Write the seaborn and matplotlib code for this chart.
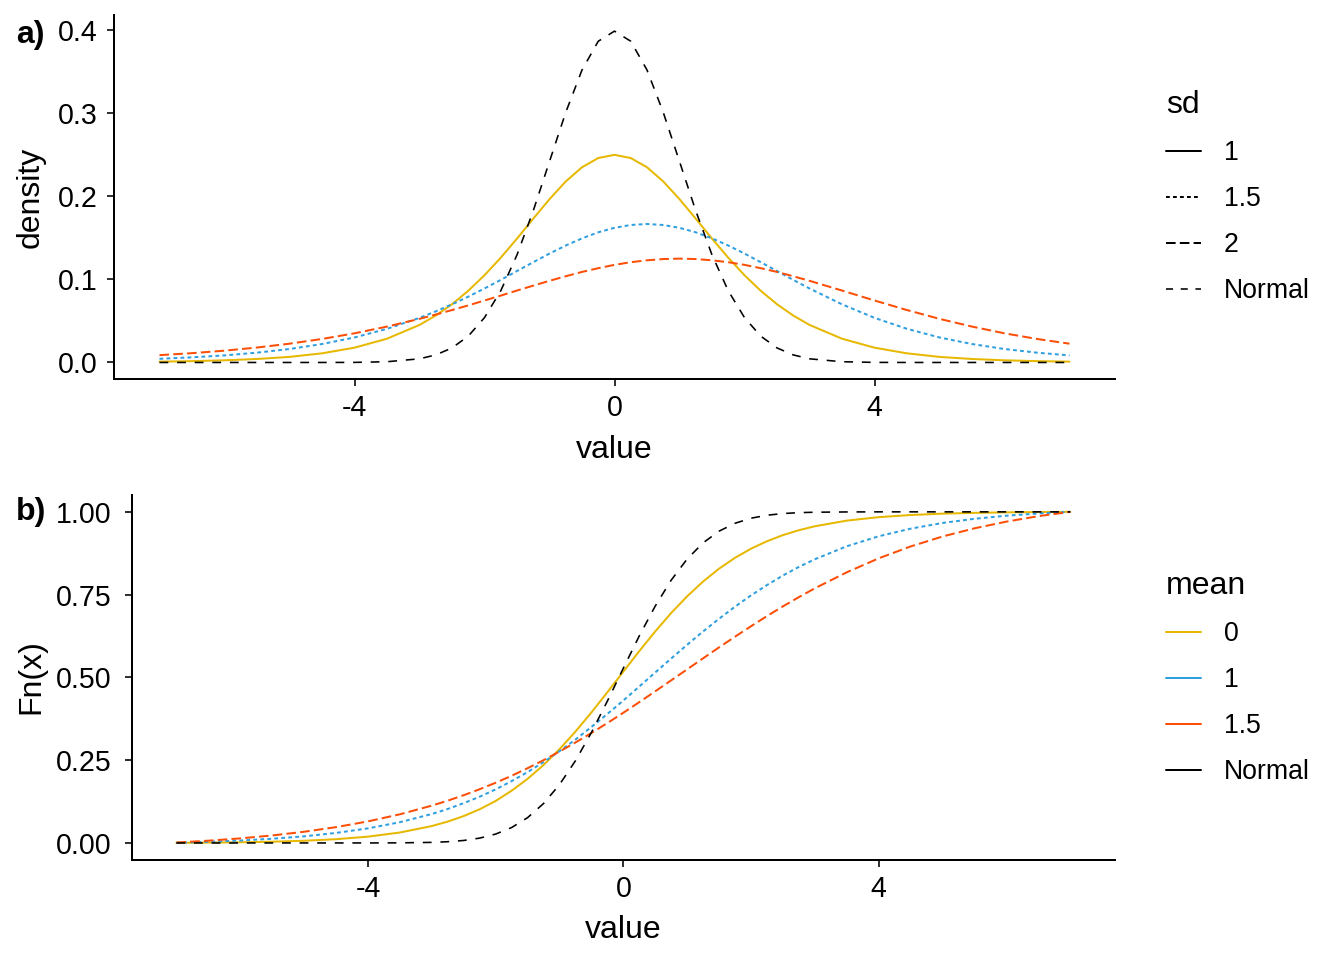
import matplotlib
matplotlib.use("Agg")
import matplotlib.pyplot as plt
from matplotlib.lines import Line2D
import seaborn as sns

# ================= DATA =================
X_GRID = [-7, -6.5, -6, -5.5, -5, -4.5, -4, -3.5, -3, -2.75, -2.5, -2.25, -2, -1.75,
          -1.5, -1.25, -1, -0.75, -0.5, -0.25, 0, 0.25, 0.5, 0.75, 1, 1.25, 1.5, 1.75,
          2, 2.25, 2.5, 2.75, 3, 3.5, 4, 4.5, 5, 5.5, 6, 6.5, 7]

# panel a) density
DENS_SD1 = [0.0010, 0.0016, 0.0026, 0.0042, 0.0067, 0.0110, 0.0178, 0.0286, 0.0452, 0.0565,
            0.0701, 0.0863, 0.1050, 0.1261, 0.1491, 0.1731, 0.1966, 0.2179, 0.2350, 0.2461,
            0.2500, 0.2461, 0.2350, 0.2179, 0.1966, 0.1731, 0.1491, 0.1261, 0.1050, 0.0863,
            0.0701, 0.0565, 0.0452, 0.0286, 0.0178, 0.0110, 0.0067, 0.0042, 0.0026, 0.0016,
            0.0010]
DENS_SD15 = [0.0044, 0.0062, 0.0085, 0.0118, 0.0162, 0.0222, 0.0301, 0.0405, 0.0537, 0.0615,
             0.0700, 0.0792, 0.0891, 0.0994, 0.1101, 0.1207, 0.1311, 0.1408, 0.1494, 0.1567,
             0.1621, 0.1655, 0.1667, 0.1655, 0.1621, 0.1567, 0.1494, 0.1408, 0.1311, 0.1207,
             0.1101, 0.0994, 0.0891, 0.0700, 0.0537, 0.0405, 0.0301, 0.0222, 0.0162, 0.0118,
             0.0085]
DENS_SD2 = [0.0088, 0.0112, 0.0142, 0.0180, 0.0226, 0.0283, 0.0351, 0.0432, 0.0525, 0.0577,
            0.0631, 0.0687, 0.0746, 0.0805, 0.0866, 0.0925, 0.0983, 0.1038, 0.1090, 0.1135,
            0.1175, 0.1207, 0.1230, 0.1245, 0.1250, 0.1245, 0.1230, 0.1207, 0.1175, 0.1135,
            0.1090, 0.1038, 0.0983, 0.0866, 0.0746, 0.0631, 0.0525, 0.0432, 0.0351, 0.0283,
            0.0226]
DENS_NORMAL = [0.0, 0.0, 0.0, 0.0, 0.0, 0.0, 0.0001, 0.0009, 0.0044, 0.0091,
               0.0175, 0.0317, 0.0540, 0.0863, 0.1295, 0.1826, 0.2420, 0.3011, 0.3521, 0.3867,
               0.3989, 0.3867, 0.3521, 0.3011, 0.2420, 0.1826, 0.1295, 0.0863, 0.0540, 0.0317,
               0.0175, 0.0091, 0.0044, 0.0009, 0.0001, 0.0, 0.0, 0.0, 0.0, 0.0,
               0.0]

# panel b) Fn(x)
CDF_MEAN0 = [0.0002, 0.0010, 0.0020, 0.0037, 0.0066, 0.0113, 0.0190, 0.0315, 0.0510, 0.0645,
             0.0812, 0.1017, 0.1268, 0.1578, 0.1936, 0.2354, 0.2832, 0.3364, 0.3942, 0.4552,
             0.5176, 0.5795, 0.6391, 0.6947, 0.7451, 0.7898, 0.8285, 0.8614, 0.8888, 0.9113,
             0.9298, 0.9446, 0.9565, 0.9735, 0.9840, 0.9905, 0.9946, 0.9970, 0.9985, 0.9994,
             1.0000]
CDF_MEAN1 = [0.0006, 0.0034, 0.0073, 0.0127, 0.0200, 0.0302, 0.0440, 0.0626, 0.0874, 0.1026,
             0.1202, 0.1397, 0.1618, 0.1867, 0.2140, 0.2442, 0.2771, 0.3123, 0.3504, 0.3896,
             0.4303, 0.4725, 0.5150, 0.5572, 0.5988, 0.6390, 0.6773, 0.7138, 0.7479, 0.7790,
             0.8078, 0.8338, 0.8569, 0.8961, 0.9263, 0.9493, 0.9665, 0.9791, 0.9884, 0.9951,
             1.0000]
CDF_MEAN15 = [0.0013, 0.0068, 0.0138, 0.0226, 0.0338, 0.0477, 0.0651, 0.0865, 0.1127, 0.1277,
              0.1442, 0.1623, 0.1818, 0.2029, 0.2257, 0.2500, 0.2760, 0.3034, 0.3321, 0.3622,
              0.3933, 0.4253, 0.4581, 0.4912, 0.5245, 0.5578, 0.5908, 0.6231, 0.6546, 0.6853,
              0.7146, 0.7426, 0.7692, 0.8175, 0.8597, 0.8956, 0.9256, 0.9503, 0.9705, 0.9870,
              1.0000]
CDF_NORMAL = [0.0, 0.0, 0.0, 0.0, 0.0, 0.0, 0.0, 0.0003, 0.0017, 0.0037,
              0.0075, 0.0146, 0.0268, 0.0465, 0.0764, 0.1190, 0.1762, 0.2483, 0.3336, 0.4286,
              0.5279, 0.6255, 0.7157, 0.7939, 0.8577, 0.9066, 0.9418, 0.9656, 0.9808, 0.9898,
              0.9949, 0.9976, 0.9989, 0.9997, 1.0, 1.0, 1.0, 1.0, 1.0, 1.0,
              1.0]

SD_LABELS = ["1", "1.5", "2", "Normal"]
MEAN_LABELS = ["0", "1", "1.5", "Normal"]

# ================= STYLE =================
COLORS = ["#E7B800", "#2E9FDF", "#FC4E07", "black"]
LINESTYLES = ["-", (0, (1.9, 1.6)), (0, (4.8, 2.1)), (0, (5.5, 5.5))]
KEY_STYLES = ["-", (0, (1.9, 1.6)), (0, (4.8, 2.1)), (0, (4.4, 4.8))]   # legend keys
WIDTHS = [1.5, 1.5, 1.5, 1.2]
TICK_FS = 21.5     # tick labels
TITLE_FS = 24      # axis titles / legend titles
LEG_FS = 20        # legend labels

sns.set_style("ticks")
plt.rcParams["font.family"] = ["Liberation Sans", "DejaVu Sans"]
plt.rcParams["axes.unicode_minus"] = False
plt.rcParams["text.color"] = "black"
plt.rcParams["axes.labelcolor"] = "black"

W, H = 1344, 960
fig = plt.figure(figsize=(14, 10), dpi=96)
ax_a = fig.add_axes([114 / W, 1 - 379 / H, (1115 - 114) / W, (379 - 14.5) / H])
ax_b = fig.add_axes([131.7 / W, 1 - 859.5 / H, (1115 - 131.7) / W, (859.5 - 495.3) / H])

# ---- a) density
for y, c, ls, lw in zip([DENS_SD1, DENS_SD15, DENS_SD2, DENS_NORMAL], COLORS, LINESTYLES, WIDTHS):
    sns.lineplot(x=X_GRID, y=y, ax=ax_a, color=c, linestyle=ls, linewidth=lw,
                 errorbar=None, legend=False)
ax_a.set_ylim(-0.0199, 0.4189)
ax_a.set_yticks([0, 0.1, 0.2, 0.3, 0.4])
ax_a.set_yticklabels(["0.0", "0.1", "0.2", "0.3", "0.4"])
ax_a.set_ylabel("density", fontsize=TITLE_FS)

# ---- b) Fn(x)
for y, c, ls, lw in zip([CDF_MEAN0, CDF_MEAN1, CDF_MEAN15, CDF_NORMAL], COLORS, LINESTYLES, WIDTHS):
    sns.lineplot(x=X_GRID, y=y, ax=ax_b, color=c, linestyle=ls, linewidth=lw,
                 errorbar=None, legend=False)
ax_b.set_ylim(-0.05, 1.05)
ax_b.set_yticks([0, 0.25, 0.5, 0.75, 1.0])
ax_b.set_yticklabels(["0.00", "0.25", "0.50", "0.75", "1.00"])
ax_b.set_ylabel("Fn(x)", fontsize=TITLE_FS)

# ---- shared axis styling (classic look: left/bottom lines only)
for ax, ypad, xtop, ymid in [(ax_a, 6.5, 435, 197), (ax_b, 9.5, 915, 677)]:
    for side in ["top", "right"]:
        ax.spines[side].set_visible(False)
    for side in ["left", "bottom"]:
        ax.spines[side].set_color("black")
        ax.spines[side].set_linewidth(1.5)
    ax.tick_params(axis="both", which="major", bottom=True, left=True,
                   direction="out", length=5.5, width=1.5, color="#333333",
                   labelsize=TICK_FS, labelcolor="black")
    ax.tick_params(axis="y", pad=ypad)
    ax.tick_params(axis="x", pad=6)
    ax.set_xlim(-7.7, 7.7)
    ax.set_xticks([-4, 0, 4])
    ax.set_xticklabels(["-4", "0", "4"])
    ax.set_xlabel("value", fontsize=TITLE_FS)
    # axis titles sit where the reference has them (figure pixels)
    pos = ax.get_position()
    ax.xaxis.set_label_coords(pos.x0 + pos.width / 2, 1 - xtop / H, transform=fig.transFigure)
    ax.yaxis.set_label_coords(46 / W, 1 - ymid / H, transform=fig.transFigure)

# ---- legends
leg_kw = dict(loc="upper left", frameon=False, fontsize=LEG_FS, title_fontsize=TITLE_FS,
              handlelength=1.31, handletextpad=0.86, labelspacing=0.75,
              borderpad=0, borderaxespad=0, alignment="left",
              bbox_transform=fig.transFigure)

sd_handles = [Line2D([], [], color="black", linestyle=ls, linewidth=lw)
              for ls, lw in zip(KEY_STYLES, WIDTHS)]
ax_a.legend(sd_handles, SD_LABELS, title="sd",
            bbox_to_anchor=(1166 / W, 1 - 90 / H), **leg_kw)

mean_handles = [Line2D([], [], color=c, linewidth=1.5) for c in COLORS]
ax_b.legend(mean_handles, MEAN_LABELS, title="mean",
            bbox_to_anchor=(1166 / W, 1 - 571 / H), **leg_kw)

# ---- panel tags
fig.text(16 / W, 1 - 35 / H, "a)", fontsize=24, fontweight="bold", ha="left", va="center")
fig.text(16 / W, 1 - 512 / H, "b)", fontsize=24, fontweight="bold", ha="left", va="center")

fig.savefig("out.png", dpi=96)
